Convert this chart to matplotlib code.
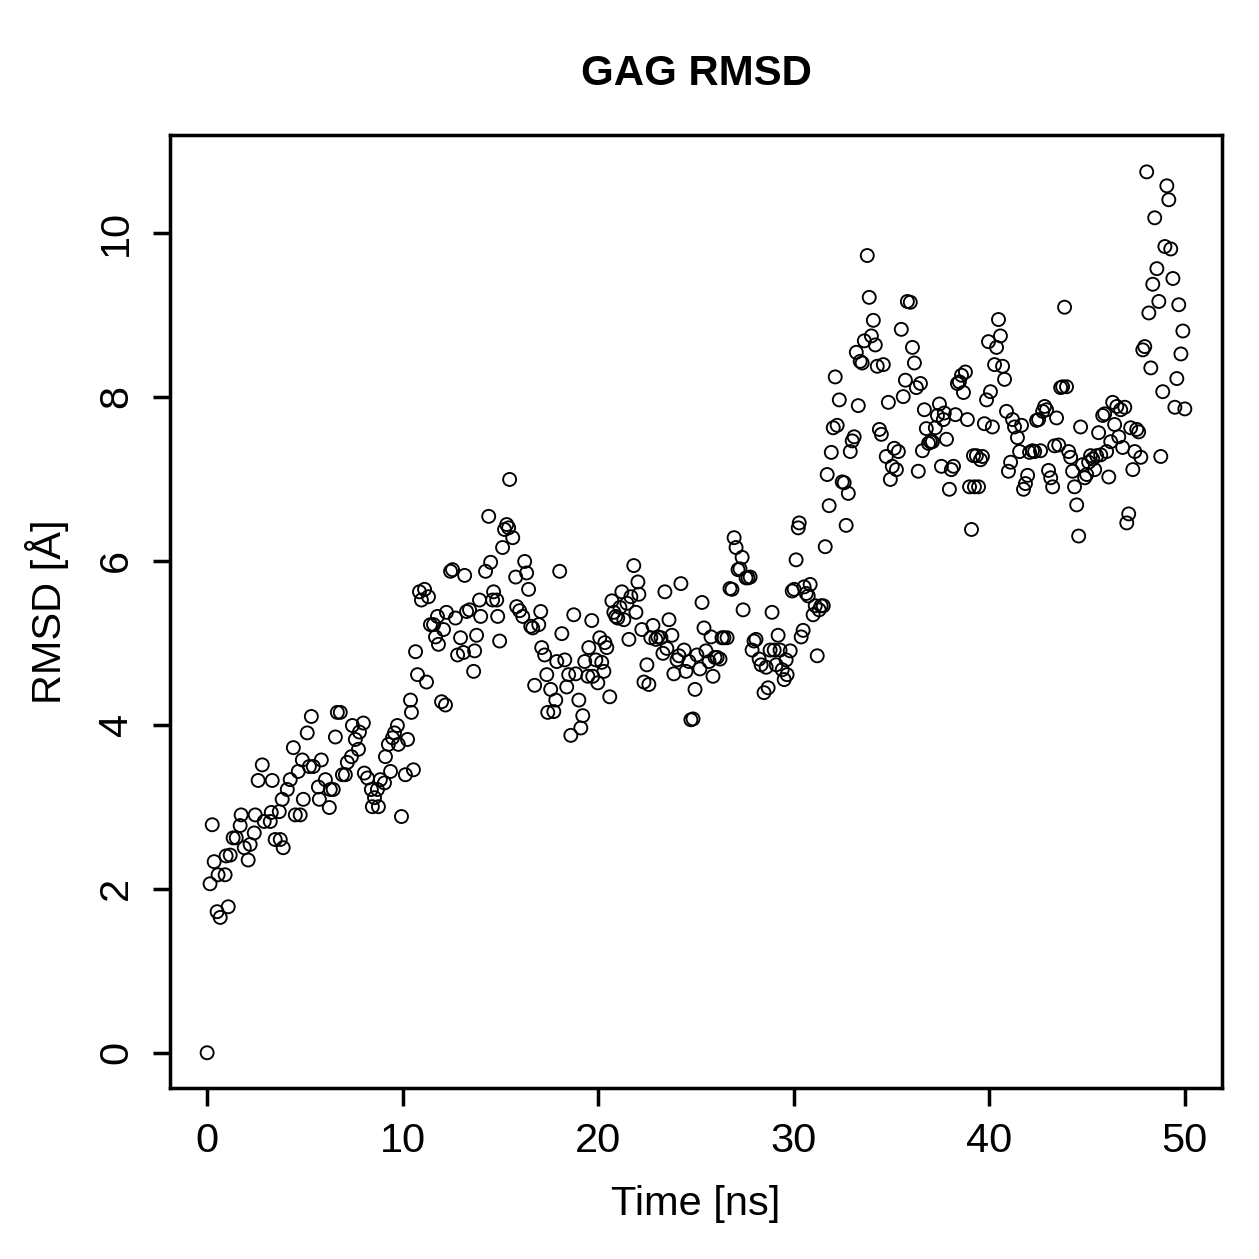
import matplotlib
matplotlib.use("Agg")
from matplotlib import pyplot as plt

# Data (time in ns, RMSD in Angstrom)
time_ns = [
    0.00, 0.15, 0.26, 0.36, 0.51, 0.67, 0.56, 0.92, 1.08, 0.97, 1.18, 1.33, 1.49, 1.69, 1.74, 1.90,
    2.10, 2.20, 2.41, 2.46, 2.61, 2.82, 2.92, 3.23, 3.28, 3.33, 3.48, 3.74, 3.69, 3.89, 3.84, 4.10,
    4.25, 4.41, 4.51, 4.76, 4.66, 4.87, 4.92, 5.12, 5.33, 5.23, 5.43, 5.69, 5.74, 5.84, 6.05, 6.25,
    6.30, 6.45, 6.56, 6.66, 6.81, 6.92, 7.07, 7.17, 7.43, 7.38, 7.58, 7.74, 7.79, 7.99, 8.04, 8.20,
    8.40, 8.45, 8.56, 8.71, 8.76, 8.86, 9.07, 9.12, 9.27, 9.38, 9.48, 9.58, 9.73, 9.78, 9.94, 10.14,
    10.25, 10.40, 10.45, 10.55, 10.66, 10.76, 10.86, 10.96, 11.12, 11.22, 11.32, 11.42, 11.58, 11.68,
    11.78, 11.83, 11.99, 12.19, 12.09, 12.24, 12.45, 12.55, 12.70, 12.81, 12.96, 13.11, 13.17, 13.27,
    13.42, 13.63, 13.68, 13.78, 13.93, 13.99, 14.24, 14.40, 14.50, 14.60, 14.65, 14.81, 14.86, 14.96,
    15.11, 15.21, 15.32, 15.42, 15.47, 15.63, 15.78, 15.83, 15.98, 16.14, 16.24, 16.34, 16.44, 16.55,
    16.65, 16.75, 16.96, 17.06, 17.11, 17.26, 17.37, 17.42, 17.57, 17.73, 17.83, 17.88, 18.03, 18.14,
    18.29, 18.39, 18.49, 18.60, 18.75, 18.85, 19.01, 19.11, 19.21, 19.31, 19.47, 19.52, 19.67, 19.72,
    19.88, 19.98, 20.08, 20.18, 20.29, 20.34, 20.44, 20.59, 20.70, 20.80, 20.90, 21.00, 21.11, 21.21,
    21.31, 21.47, 21.57, 21.67, 21.82, 21.93, 22.03, 22.08, 22.23, 22.34, 22.49, 22.59, 22.69, 22.80,
    22.95, 23.05, 23.21, 23.31, 23.41, 23.51, 23.62, 23.77, 23.87, 24.03, 24.13, 24.23, 24.39, 24.49,
    24.64, 24.74, 24.85, 24.95, 25.05, 25.20, 25.31, 25.41, 25.51, 25.67, 25.77, 25.87, 25.97, 26.08,
    26.23, 26.33, 26.43, 26.59, 26.74, 26.84, 26.95, 27.05, 27.15, 27.25, 27.36, 27.41, 27.56, 27.66,
    27.77, 27.87, 27.97, 28.07, 28.23, 28.33, 28.48, 28.59, 28.69, 28.79, 28.89, 29.00, 29.10, 29.20,
    29.30, 29.41, 29.51, 29.61, 29.66, 29.82, 29.92, 30.02, 30.12, 30.23, 30.28, 30.38, 30.48, 30.53,
    30.64, 30.74, 30.84, 30.99, 31.10, 31.20, 31.30, 31.40, 31.51, 31.61, 31.71, 31.81, 31.92, 32.02,
    32.12, 32.22, 32.33, 32.48, 32.58, 32.68, 32.79, 32.89, 32.99, 33.09, 33.20, 33.30, 33.40, 33.50,
    33.61, 33.76, 33.86, 33.97, 34.07, 34.17, 34.27, 34.38, 34.48, 34.58, 34.73, 34.84, 34.94, 35.04,
    35.14, 35.25, 35.35, 35.50, 35.60, 35.71, 35.81, 35.96, 36.07, 36.17, 36.27, 36.37, 36.48, 36.58,
    36.68, 36.78, 36.89, 36.99, 37.09, 37.24, 37.35, 37.45, 37.55, 37.65, 37.70, 37.81, 37.96, 38.06,
    38.17, 38.27, 38.37, 38.47, 38.58, 38.68, 38.78, 38.88, 38.99, 39.09, 39.19, 39.24, 39.34, 39.45,
    39.55, 39.65, 39.75, 39.86, 39.96, 40.06, 40.16, 40.27, 40.37, 40.47, 40.57, 40.68, 40.78, 40.88,
    40.98, 41.09, 41.19, 41.29, 41.44, 41.55, 41.65, 41.75, 41.85, 41.96, 42.06, 42.21, 42.32, 42.42,
    42.52, 42.62, 42.73, 42.83, 42.93, 43.03, 43.14, 43.24, 43.34, 43.44, 43.55, 43.65, 43.75, 43.85,
    43.95, 44.06, 44.16, 44.26, 44.36, 44.47, 44.57, 44.67, 44.77, 44.88, 44.98, 45.08, 45.18, 45.29,
    45.39, 45.49, 45.59, 45.70, 45.80, 45.90, 46.00, 46.11, 46.21, 46.31, 46.41, 46.52, 46.62, 46.72,
    46.82, 46.93, 47.03, 47.13, 47.23, 47.34, 47.44, 47.54, 47.64, 47.75, 47.85, 47.95, 48.05, 48.16,
    48.26, 48.36, 48.46, 48.57, 48.67, 48.77, 48.87, 48.98, 49.08, 49.18, 49.28, 49.39, 49.49, 49.59,
    49.69, 49.80, 49.90, 50.00,
]

rmsd = [
    0.00, 2.06, 2.78, 2.33, 1.72, 1.65, 2.17, 2.17, 1.78, 2.40, 2.41, 2.62, 2.62, 2.77, 2.90, 2.50,
    2.35, 2.54, 2.68, 2.90, 3.32, 3.51, 2.82, 2.82, 2.93, 3.32, 2.60, 2.60, 2.94, 2.50, 3.09, 3.21,
    3.33, 3.72, 2.90, 2.90, 3.43, 3.57, 3.09, 3.90, 4.10, 3.49, 3.49, 3.24, 3.09, 3.57, 3.33, 2.99,
    3.21, 3.21, 3.85, 4.15, 4.15, 3.39, 3.39, 3.54, 3.99, 3.61, 3.82, 3.70, 3.91, 4.02, 3.41, 3.35,
    3.21, 3.00, 3.11, 3.21, 3.00, 3.33, 3.29, 3.61, 3.76, 3.43, 3.84, 3.90, 3.99, 3.76, 2.88, 3.39,
    3.82, 4.30, 4.15, 3.45, 4.89, 4.61, 5.62, 5.52, 5.65, 4.52, 5.56, 5.22, 5.22, 5.07, 5.32, 4.98,
    4.28, 4.24, 5.16, 5.37, 5.87, 5.89, 5.30, 4.85, 5.06, 4.88, 5.82, 5.38, 5.40, 4.65, 4.90, 5.09,
    5.52, 5.32, 5.87, 6.54, 5.98, 5.52, 5.62, 5.52, 5.32, 5.02, 6.16, 6.38, 6.44, 6.40, 6.99, 6.28,
    5.80, 5.44, 5.39, 5.32, 5.99, 5.85, 5.65, 5.20, 5.18, 4.48, 5.22, 5.38, 4.94, 4.85, 4.61, 4.15,
    4.43, 4.16, 4.30, 4.77, 5.87, 5.11, 4.79, 4.46, 4.61, 3.87, 5.34, 4.62, 4.30, 3.96, 4.11, 4.77,
    4.59, 4.94, 5.27, 4.59, 4.79, 4.51, 5.06, 4.76, 4.65, 5.00, 4.94, 4.34, 5.51, 5.37, 5.32, 5.30,
    5.43, 5.62, 5.28, 5.48, 5.04, 5.56, 5.94, 5.37, 5.74, 5.59, 5.16, 4.52, 4.73, 4.49, 5.06, 5.21,
    5.04, 5.07, 5.06, 4.87, 5.62, 4.93, 5.28, 5.09, 4.62, 4.79, 4.84, 5.72, 4.91, 4.65, 4.77, 4.06,
    4.07, 4.43, 4.85, 4.68, 5.49, 5.18, 4.90, 4.77, 5.07, 4.59, 4.82, 4.82, 4.80, 5.06, 5.06, 5.06,
    5.66, 5.65, 6.28, 6.16, 5.89, 5.90, 6.04, 5.40, 5.79, 5.79, 5.80, 4.91, 5.02, 5.04, 4.80, 4.73,
    4.39, 4.70, 4.45, 4.91, 5.37, 4.91, 4.73, 5.09, 4.91, 4.67, 4.55, 4.79, 4.61, 4.90, 5.63, 5.65,
    6.01, 6.40, 6.46, 5.07, 5.15, 5.68, 5.60, 5.57, 5.71, 5.34, 5.45, 4.84, 5.40, 5.45, 5.45, 6.17,
    7.05, 6.67, 7.32, 7.62, 8.24, 7.65, 7.96, 6.96, 6.95, 6.43, 6.82, 7.33, 7.46, 7.51, 8.54, 7.89,
    8.43, 8.41, 8.68, 9.72, 9.21, 8.74, 8.93, 8.63, 8.37, 7.60, 7.54, 8.39, 7.27, 7.93, 6.99, 7.15,
    7.37, 7.11, 7.33, 8.82, 8.00, 8.20, 9.16, 9.15, 8.60, 8.41, 8.11, 7.09, 8.16, 7.34, 7.84, 7.61,
    7.43, 7.45, 7.45, 7.62, 7.77, 7.91, 7.15, 7.72, 7.80, 7.48, 6.87, 7.11, 7.15, 7.78, 8.16, 8.18,
    8.26, 8.05, 8.30, 7.72, 6.90, 6.38, 7.28, 6.90, 7.28, 6.90, 7.23, 7.27, 7.67, 7.96, 8.67, 8.06,
    7.63, 8.39, 8.60, 8.94, 8.74, 8.37, 8.21, 7.82, 7.09, 7.20, 7.72, 7.63, 7.50, 7.33, 7.65, 6.87,
    6.94, 7.04, 7.32, 7.34, 7.33, 7.71, 7.72, 7.34, 7.82, 7.88, 7.84, 7.10, 7.01, 6.90, 7.40, 7.74,
    7.41, 8.11, 8.12, 9.09, 8.12, 7.33, 7.26, 7.09, 6.90, 6.68, 6.30, 7.63, 7.17, 7.01, 7.05, 7.20,
    7.28, 7.24, 7.11, 7.28, 7.56, 7.29, 7.77, 7.79, 7.33, 7.02, 7.45, 7.93, 7.66, 7.88, 7.51, 7.84,
    7.38, 7.87, 6.46, 6.57, 7.62, 7.11, 7.33, 7.60, 7.57, 7.26, 8.57, 8.61, 10.74, 9.02, 8.35, 9.37,
    10.18, 9.56, 9.16, 7.27, 8.06, 9.83, 10.57, 10.40, 9.80, 9.44, 7.87, 8.22, 9.12, 8.52, 8.80, 7.85,
]

x_ticks = [0, 10, 20, 30, 40, 50]
y_ticks = [0, 2, 4, 6, 8, 10]

plt.rcParams['font.family'] = ['Liberation Sans', 'DejaVu Sans']

fig = plt.figure(figsize=(1259 / 180, 1259 / 180), dpi=180)
ax = fig.add_axes([0.135, 0.1358, 0.8356, 0.757])

ax.scatter(time_ns, rmsd, s=5.2 ** 2, facecolors='none', edgecolors='black', linewidths=0.75)

ax.set_xlim(-1.9, 51.9)
ax.set_ylim(-0.43, 11.19)
ax.set_xticks(x_ticks)
ax.set_yticks(y_ticks)
ax.set_yticklabels([str(v) for v in y_ticks], rotation=90, va='center')

for sp in ax.spines.values():
    sp.set_linewidth(1.4)
ax.tick_params(axis='both', direction='out', length=7, width=1.4, labelsize=16.6)
ax.tick_params(axis='x', pad=6.5)
ax.tick_params(axis='y', pad=7)

ax.set_xlabel('Time [ns]', fontsize=16.6, labelpad=10)
ax.set_ylabel('RMSD [Å]', fontsize=16.6, labelpad=11)
# title is centred over the plot box, as in base R graphics
ax.set_title('GAG RMSD', fontsize=16.8, fontweight='bold', pad=20)

fig.savefig('out.png', dpi=180)
